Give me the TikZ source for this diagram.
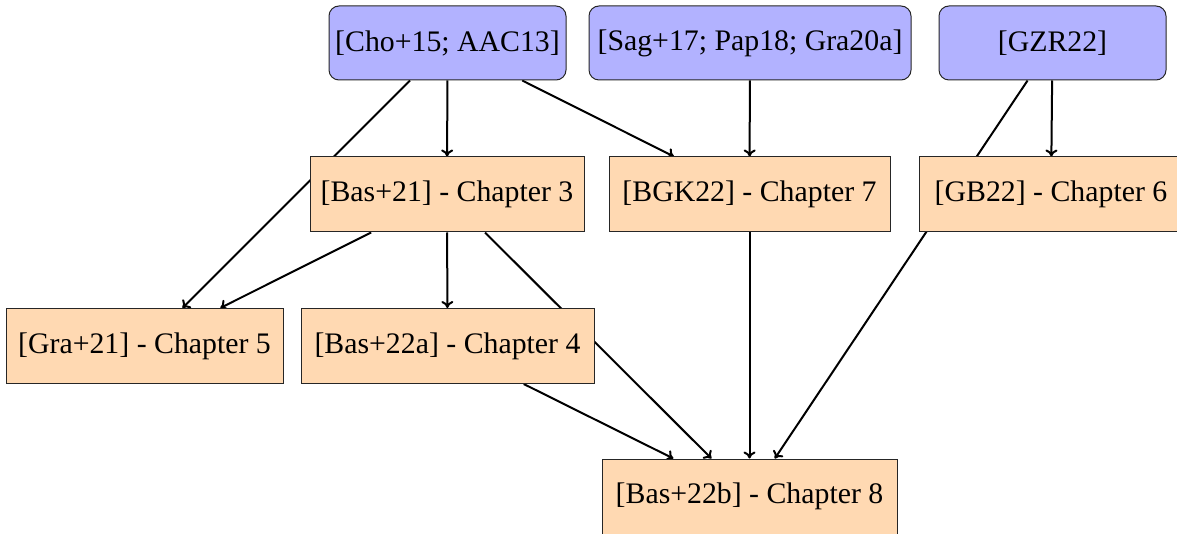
\documentclass[tikz,border=0pt]{standalone}
\usepackage{fontspec}
\setmainfont{Liberation Serif}
\usetikzlibrary{arrows.meta}
\pgfdeclarelayer{bg}
\pgfsetlayers{bg,main}
\begin{document}
\begin{tikzpicture}[x=1pt,y=-1pt,
  every node/.style={font=\fontsize{29.8}{36}\selectfont, inner sep=0pt, anchor=center},
  src/.style={draw=black!85, line width=1pt, fill=blue!30, rounded corners=10pt, minimum height=74pt},
  chap/.style={draw=black!85, line width=1pt, fill=orange!30, minimum height=75pt},
  link/.style={-{To[length=7pt,width=12pt]}, line width=2pt}]
\useasboundingbox (0,0) rectangle (1177,534);
\node[src, minimum width=237pt] (cho) at (447.5,43) {[Cho+15; AAC13]};
\node[src, minimum width=322pt] (sag) at (750,43) {[Sag+17; Pap18; Gra20a]};
\node[src, minimum width=227pt] (gzr) at (1052.5,43) {[GZR22]};
\node[chap, minimum width=274pt] (b21) at (447,194.5) {[Bas+21] - Chapter 3};
\node[chap, minimum width=281pt] (bgk) at (749.5,194.5) {[BGK22] - Chapter 7};
\node[chap, minimum width=264pt] (gb) at (1051,194.5) {[GB22] - Chapter 6};
\node[chap, minimum width=277pt] (gra) at (144.5,346) {[Gra+21] - Chapter 5};
\node[chap, minimum width=293pt] (b22a) at (447.5,346) {[Bas+22a] - Chapter 4};
\node[chap, minimum width=295pt] (b22b) at (749.5,496.5) {[Bas+22b] - Chapter 8};
\begin{pgfonlayer}{bg}
\draw[link] (cho) -- (b21);
\draw[link] (cho) -- (bgk);
\draw[link] (cho) -- (gra);
\draw[link] (sag) -- (bgk);
\draw[link] (gzr) -- (gb);
\draw[link] (gzr) -- (b22b);
\draw[link] (b21) -- (gra);
\draw[link] (b21) -- (b22a);
\draw[link] (b21) -- (b22b);
\draw[link] (b22a) -- (b22b);
\draw[link] (bgk) -- (b22b);
\end{pgfonlayer}
\end{tikzpicture}
\end{document}
